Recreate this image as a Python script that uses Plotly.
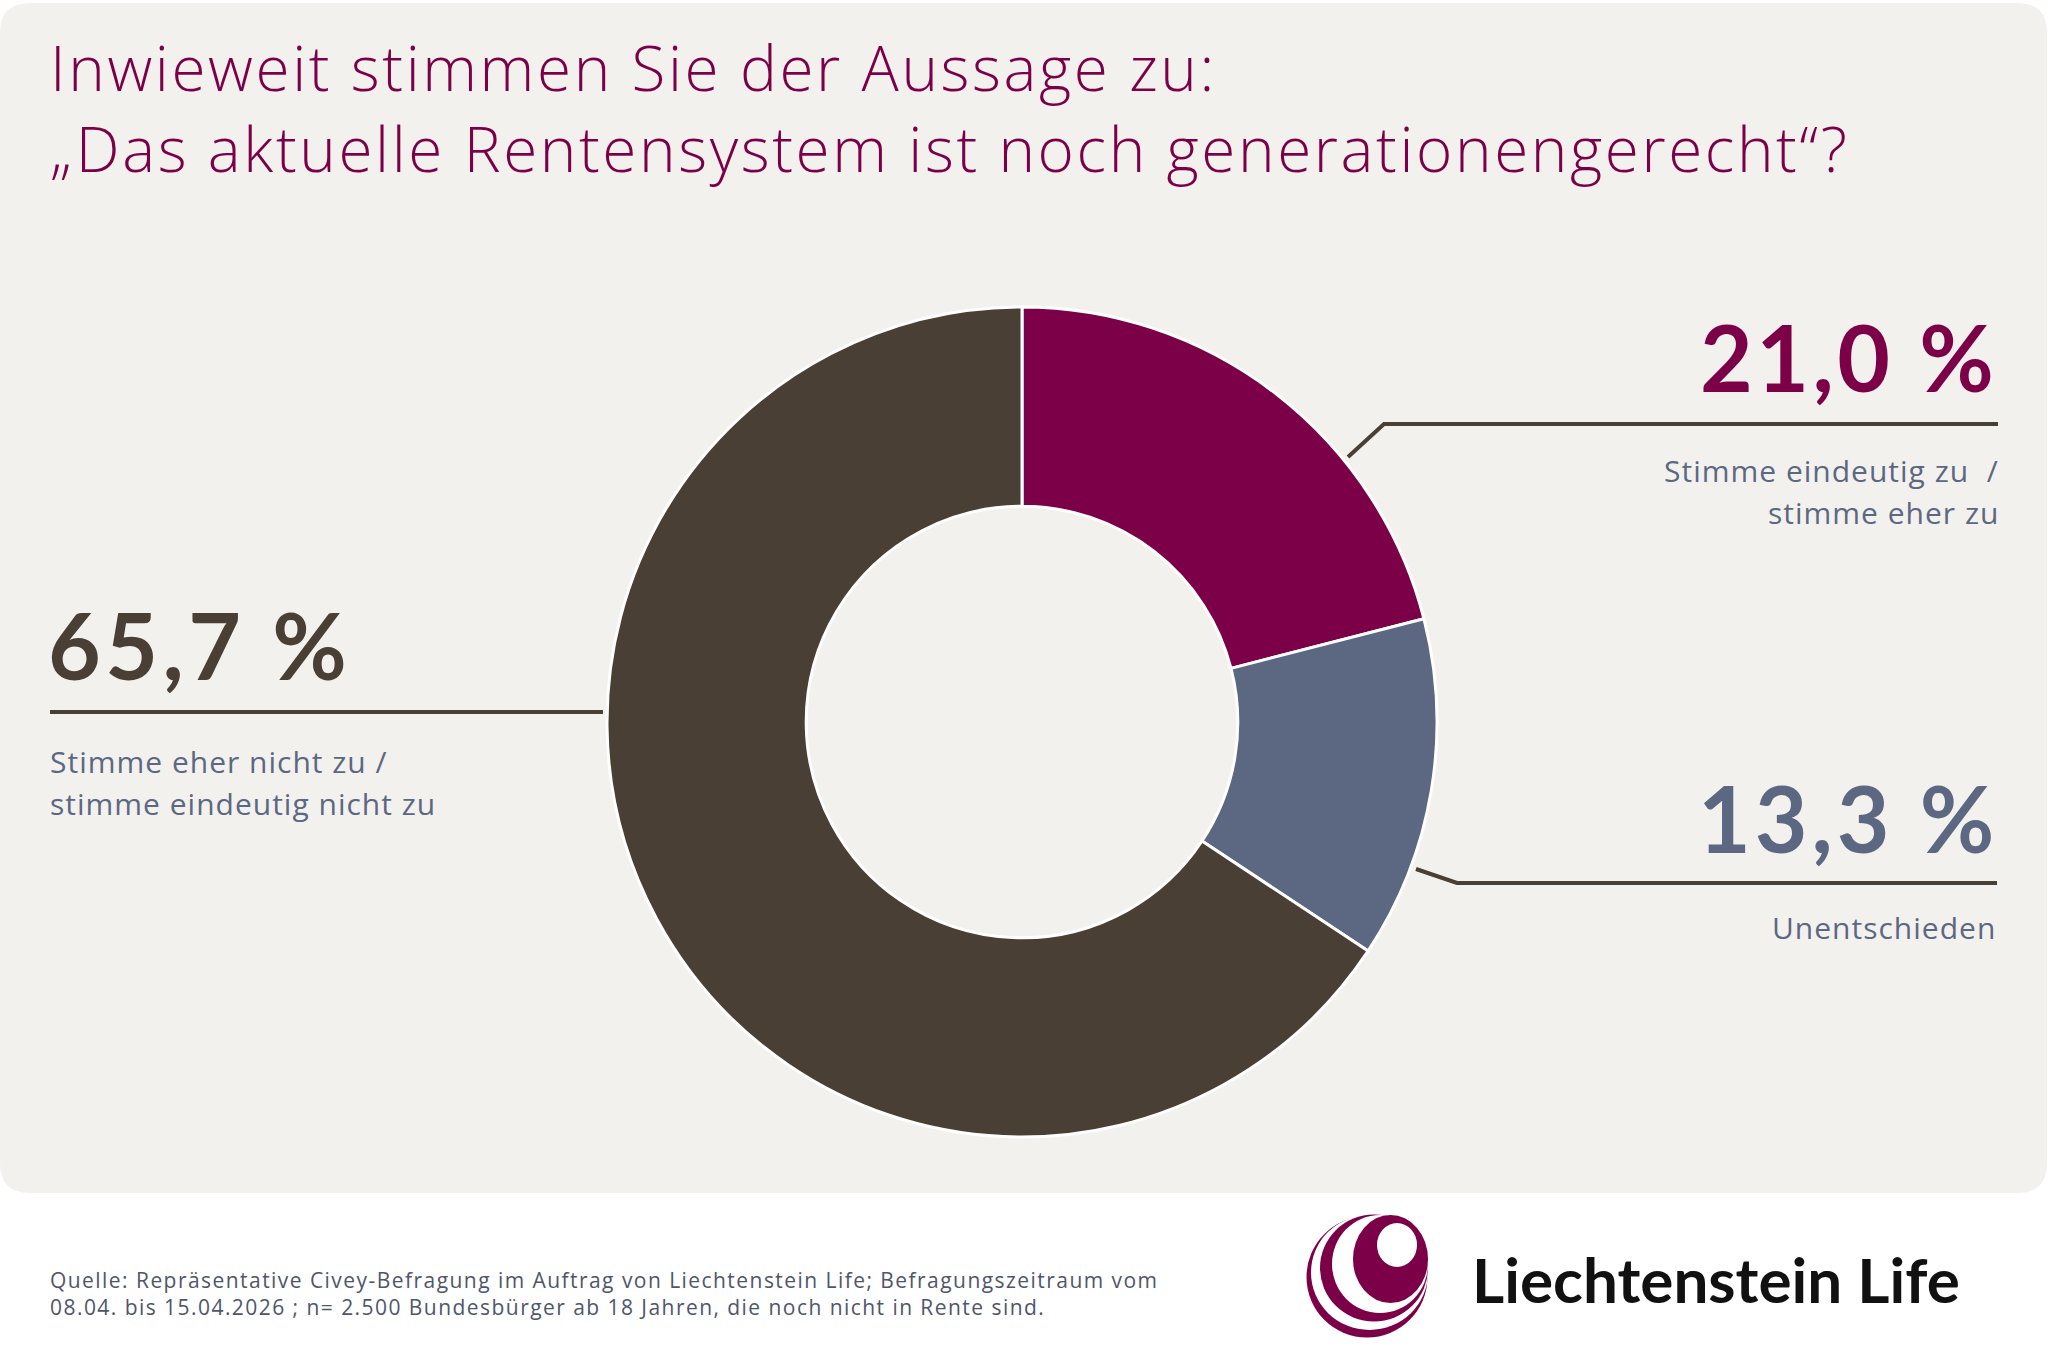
import plotly.graph_objects as go

# ---------------- data ----------------
categories = [
    "Stimme eindeutig zu  /<br>stimme eher zu",
    "Unentschieden",
    "Stimme eher nicht zu /<br>stimme eindeutig nicht zu",
]
values = [21.0, 13.3, 65.7]
slice_colors = ["#7c0048", "#5c6882", "#4a3f35"]

title_lines = [
    "Inwieweit stimmen Sie der Aussage zu:",
    "„Das aktuelle Rentensystem ist noch generationengerecht“?",
]
source_lines = [
    "Quelle: Repräsentative Civey-Befragung im Auftrag von Liechtenstein Life; Befragungszeitraum vom",
    "08.04. bis 15.04.2026 ; n= 2.500 Bundesbürger ab 18 Jahren, die noch nicht in Rente sind.",
]
brand = "Liechtenstein Life"

W, H = 2048, 1365
PURPLE = "#7c0048"
SLATE = "#5c6882"
BROWN = "#4a3f35"
PANEL = "#f3f1ee"

def pct(v):
    return f"{v:.1f}".replace(".", ",") + " %"

def spaced(text, ls):
    return "<br>".join(f'<span style="letter-spacing:{ls}px">{t}</span>' for t in text.split("<br>"))

fig = go.Figure()

# pie geometry (pixels)
cx, cy, R = 1022, 722, 415
fig.add_trace(go.Pie(
    labels=categories, values=values, sort=False, direction="clockwise", rotation=0,
    hole=0.52, marker=dict(colors=slice_colors, line=dict(color="white", width=3)),
    textinfo="none", hoverinfo="skip", showlegend=False,
    domain=dict(x=[(cx - R) / W, (cx + R) / W], y=[1 - (cy + R) / H, 1 - (cy - R) / H]),
))
fig.add_trace(go.Scatter(x=[None], y=[None], showlegend=False, hoverinfo="skip"))

shapes = []
# panel rounded rect
r = 30
x0, y0, x1, y1 = 0, 3, 2047, 1193
panel_path = (f"M {x0+r} {y0} L {x1-r} {y0} Q {x1} {y0} {x1} {y0+r} L {x1} {y1-r} Q {x1} {y1} {x1-r} {y1} "
              f"L {x0+r} {y1} Q {x0} {y1} {x0} {y1-r} L {x0} {y0+r} Q {x0} {y0} {x0+r} {y0} Z")
shapes.append(dict(type="path", path=panel_path, xref="x", yref="y", fillcolor=PANEL,
                   line=dict(width=0), layer="below"))

# leader lines
lc = dict(color=BROWN, width=4)
for p in ["M 1348 457 L 1384 424 L 1998 424",
          "M 50 712 L 603 712",
          "M 1416 869 L 1457 883 L 1997 883"]:
    shapes.append(dict(type="path", path=p, xref="x", yref="y", line=lc, layer="above"))

# logo (striped sphere): (cx, cy, rx, ry, colour), painted largest first
logo_layers = [
    (1367, 1277, 60.5, 60.5, PURPLE),
    (1369.5, 1272.5, 58.5, 57.5, "white"),
    (1374, 1268, 54, 53.5, PURPLE),
    (1380, 1264, 48, 49, "white"),
    (1390.5, 1259, 37.5, 44, PURPLE),
    (1397, 1245, 20, 22, "white"),
]
for lx, ly, rx, ry, col in logo_layers:
    shapes.append(dict(type="circle", xref="x", yref="y", x0=lx - rx, x1=lx + rx,
                       y0=ly - ry, y1=ly + ry, fillcolor=col, line=dict(width=0), layer="above"))

ann = []
def add(text, x, y, size, color, xanchor="left", weight=400, align="left", family="Open Sans", ls=0):
    if ls:
        text = spaced(text, ls)
    ann.append(dict(text=text, x=x, y=y, xref="x", yref="y", xanchor=xanchor, yanchor="middle",
                    align=align, showarrow=False,
                    font=dict(family=family, size=size, color=color, weight=weight)))

# title (two lines in one block)
add("<br>".join(title_lines), 48, 131 - 24, 62, PURPLE, weight=300, ls=2.6)

# percentages
add(pct(values[0]), 1999, 388 - 32, 91, PURPLE, xanchor="right", weight=700, family="Lato", ls=3.5)
add(pct(values[2]), 46, 676 - 32, 91, BROWN, weight=700, family="Lato", ls=4.5)
add(pct(values[1]), 2000, 849 - 32, 91, SLATE, xanchor="right", weight=700, family="Lato", ls=4)

# category labels (one annotation per line)
def add_lines(text, x, baselines, xanchor):
    for line, b in zip(text.split("<br>"), baselines):
        add(line, x, b - 11, 30, SLATE, xanchor=xanchor, weight=400, ls=1)

add_lines(categories[0], 2001, [481, 523], "right")
add_lines(categories[2], 48, [772, 814], "left")
add_lines(categories[1], 1998, [938], "right")

# footer
add("<br>".join(source_lines), 48, 1301 - 8, 21, "#4f566b", ls=1.45)
add(brand, 1470, 1300 - 21, 62, "#111111", weight=700, family="Lato")

fig.update_layout(
    width=W, height=H, margin=dict(l=0, r=0, t=0, b=0),
    paper_bgcolor="white", plot_bgcolor="rgba(0,0,0,0)",
    xaxis=dict(range=[0, W], visible=False, domain=[0, 1], fixedrange=True),
    yaxis=dict(range=[H, 0], visible=False, domain=[0, 1], fixedrange=True),
    shapes=shapes, annotations=ann, showlegend=False, hovermode=False,
)
fig.write_html("out.html")
